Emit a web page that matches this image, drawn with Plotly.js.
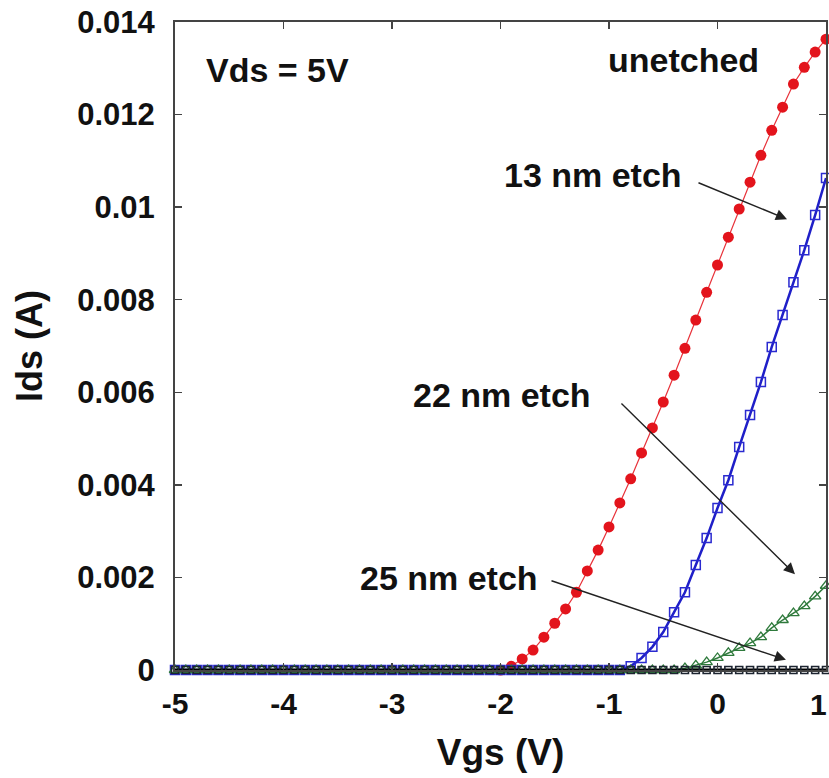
<!DOCTYPE html>
<html>
<head>
<meta charset="utf-8">
<script src="https://cdn.plot.ly/plotly-3.0.1.min.js"></script>
<style>html,body{margin:0;padding:0;background:#fff;}#chart{width:829px;height:778px;}</style>
</head>
<body>
<div id="chart"></div>
<script>
// Gate voltage Vgs (V), step 0.1 V
var vgs = [-5.0,-4.9,-4.8,-4.7,-4.6,-4.5,-4.4,-4.3,-4.2,-4.1,
           -4.0,-3.9,-3.8,-3.7,-3.6,-3.5,-3.4,-3.3,-3.2,-3.1,
           -3.0,-2.9,-2.8,-2.7,-2.6,-2.5,-2.4,-2.3,-2.2,-2.1,
           -2.0,-1.9,-1.8,-1.7,-1.6,-1.5,-1.4,-1.3,-1.2,-1.1,
           -1.0,-0.9,-0.8,-0.7,-0.6,-0.5,-0.4,-0.3,-0.2,-0.1,
           0.0,0.1,0.2,0.3,0.4,0.5,0.6,0.7,0.8,0.9,1.0];

// Unetched (red) – measured from -2.0 V upward
var vgsUnetched = [-2.0,-1.9,-1.8,-1.7,-1.6,-1.5,-1.4,-1.3,-1.2,-1.1,
                   -1.0,-0.9,-0.8,-0.7,-0.6,-0.5,-0.4,-0.3,-0.2,-0.1,
                   0.0,0.1,0.2,0.3,0.4,0.5,0.6,0.7,0.8,0.9,1.0];
var idsUnetched = [0,0.00008,0.00024,0.00043,0.00071,0.00101,0.00132,0.00168,0.00214,0.00259,
                   0.00309,0.00361,0.00413,0.00469,0.00523,0.00579,0.00637,0.00695,0.00756,0.00816,
                   0.00875,0.00935,0.00996,0.01054,0.01112,0.01166,0.01216,0.01266,0.01302,0.01335,0.01363];

// 13 nm etch (blue)
var ids13 = [0,0,0,0,0,0,0,0,0,0,
             0,0,0,0,0,0,0,0,0,0,
             0,0,0,0,0,0,0,0,0,0,
             0,0,0,0,0,0,0,0,0,0,
             0,0,0.00008,0.00026,0.0005,0.00082,0.00125,0.00168,0.00227,0.00285,
             0.0035,0.0041,0.00482,0.00551,0.00622,0.00698,0.00767,0.00838,0.00907,0.00983,0.01063];

// 22 nm etch (green)
var ids22 = [0,0,0,0,0,0,0,0,0,0,
             0,0,0,0,0,0,0,0,0,0,
             0,0,0,0,0,0,0,0,0,0,
             0,0,0,0,0,0,0,0,0,0,
             0,0,0,0,0,0,0,0.00004,0.0001,0.00017,
             0.00026,0.00037,0.00048,0.00058,0.00071,0.00091,0.00108,0.00123,0.00138,0.00159,0.00182];

// 25 nm etch (black)
var ids25 = [0,0,0,0,0,0,0,0,0,0,
             0,0,0,0,0,0,0,0,0,0,
             0,0,0,0,0,0,0,0,0,0,
             0,0,0,0,0,0,0,0,0,0,
             0,0,0,0,0,0,0,0,0,0,
             0,0,0,0,0,0,0,0,0,0,0];

var xTickVals = [-5,-4,-3,-2,-1,0,1];
var xTickText = ['-5','-4','-3','-2','-1','0',''];
var xEdgeLabel = '1';
var yTickVals = [0,0.002,0.004,0.006,0.008,0.01,0.012,0.014];
var yTickText = ['0','0.002','0.004','0.006','0.008','0.01','0.012','0.014'];

var FONT = 'Liberation Sans, Arial, Helvetica, sans-serif';

var traces = [
  {x: vgsUnetched, y: idsUnetched, type:'scatter', mode:'lines+markers', name:'unetched',
   line:{color:'#e8323a', width:1.2},
   marker:{symbol:'circle', size:11, color:'#e3141c', line:{width:0}}, cliponaxis:false},
  {x: vgs, y: ids13, type:'scatter', mode:'lines+markers', name:'13 nm etch',
   line:{color:'#1f1fc8', width:2.5},
   marker:{symbol:'square-open', size:9, color:'#2a2ad0', line:{width:1.5}}, cliponaxis:false},
  {x: vgs, y: ids22, type:'scatter', mode:'lines+markers', name:'22 nm etch',
   line:{color:'#2f7a3c', width:1.5},
   marker:{symbol:'triangle-up-open', size:10, color:'#2f7a3c', line:{width:1.3}}, cliponaxis:false},
  {x: vgs, y: ids25, type:'scatter', mode:'lines+markers', name:'25 nm etch',
   line:{color:'#000000', width:3},
   marker:{symbol:'square-open', size:7, color:'#1c2430', line:{width:1.6}}, cliponaxis:false}
];

var annFont = {family: FONT, size: 34, color:'#111', weight:'bold'};
var arrowCommon = {xref:'x', yref:'y', axref:'x', ayref:'y', text:'', showarrow:true,
                   arrowhead:2, arrowsize:1.6, arrowwidth:1.4, arrowcolor:'#222'};

var layout = {
  width: 829, height: 778,
  margin: {l:175, r:3, t:22, b:108, pad:0},
  paper_bgcolor:'#ffffff', plot_bgcolor:'#ffffff',
  showlegend:false,
  font:{family: FONT, color:'#111'},
  xaxis:{
    range:[-5,1], tickvals:xTickVals, ticktext:xTickText,
    ticks:'inside', ticklen:7, tickwidth:1.5, tickcolor:'#444',
    showline:true, linecolor:'#444', linewidth:2, mirror:'ticks',
    showgrid:false, zeroline:false,
    tickfont:{family:FONT, size:30, color:'#111', weight:'bold'},
    ticklabelstandoff:6,
    title:{text:'Vgs (V)', font:{family:FONT, size:37, color:'#111', weight:'bold'}, standoff:20}
  },
  yaxis:{
    range:[0,0.014], tickvals:yTickVals, ticktext:yTickText,
    ticks:'inside', ticklen:7, tickwidth:1.5, tickcolor:'#444',
    showline:true, linecolor:'#444', linewidth:2, mirror:'ticks',
    showgrid:false, zeroline:false, ticklabeloverflow:'allow',
    tickfont:{family:FONT, size:31, color:'#111', weight:'bold'},
    ticklabelstandoff:12,
    title:{text:'Ids (A)', font:{family:FONT, size:36, color:'#111', weight:'bold'}, standoff:24}
  },
  annotations:[
    {xref:'paper', yref:'y', x:1, y:0, yshift:-34, xshift:3, text:xEdgeLabel, showarrow:false,
     font:{family:FONT, size:30, color:'#111', weight:'bold'}, xanchor:'right', yanchor:'middle'},
    {xref:'x', yref:'y', x:-4.051, y:0.01296, text:'Vds = 5V', showarrow:false, font:annFont, xanchor:'center', yanchor:'middle'},
    {xref:'x', yref:'y', x:-0.309, y:0.01317, text:'unetched', showarrow:false, font:annFont, xanchor:'center', yanchor:'middle'},
    {xref:'x', yref:'y', x:-1.147, y:0.01069, text:'13 nm etch', showarrow:false, font:annFont, xanchor:'center', yanchor:'middle'},
    {xref:'x', yref:'y', x:-1.986, y:0.00594, text:'22 nm etch', showarrow:false, font:annFont, xanchor:'center', yanchor:'middle'},
    {xref:'x', yref:'y', x:-2.475, y:0.00199, text:'25 nm etch', showarrow:false, font:annFont, xanchor:'center', yanchor:'middle'},
    Object.assign({}, arrowCommon, {x:0.641, y:0.00974, ax:-0.189, ay:0.01054}),
    Object.assign({}, arrowCommon, {x:0.714, y:0.00207, ax:-0.899, ay:0.00579}),
    Object.assign({}, arrowCommon, {x:0.631, y:0.00022, ax:-1.544, ay:0.00194})
  ]
};

Plotly.newPlot('chart', traces, layout, {displayModeBar:false, staticPlot:true});
</script>
</body>
</html>
